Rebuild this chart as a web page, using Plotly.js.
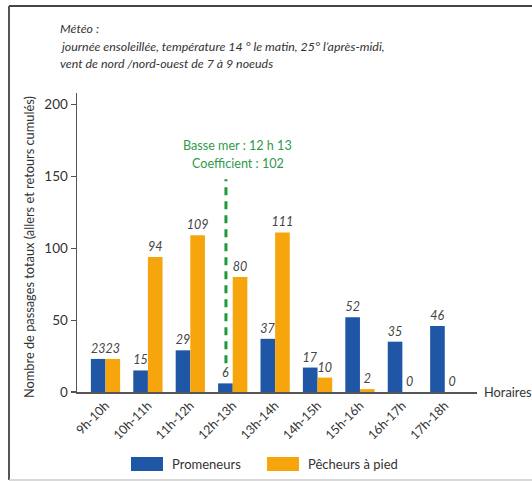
<!DOCTYPE html>
<html>
<head>
<meta charset="utf-8">
<script src="https://cdn.plot.ly/plotly-3.0.1.min.js"></script>
<style>html,body{margin:0;padding:0;background:#fff;}#chart{width:532px;height:481px;}</style>
</head>
<body>
<div id="chart"></div>
<script>
const categories = ["9h-10h","10h-11h","11h-12h","12h-13h","13h-14h","14h-15h","15h-16h","16h-17h","17h-18h"];
const promeneurs = [23,15,29,6,37,17,52,35,46];
const pecheurs = [23,94,109,80,111,10,2,0,0];
const seriesNames = ["Promeneurs","Pêcheurs à pied"];
const seriesColors = ["#1f56a6","#f6a60c"];
const yTicks = [0,50,100,150,200];
const titleLines = ["Météo :","journée ensoleillée, température 14 ° le matin, 25° l’après-midi,","vent de nord /nord-ouest de 7 à 9 noeuds"];
const tideLines = ["Basse mer : 12 h 13","Coefficient : 102"];
const tidePos = 2.84;   // position of low tide on the category axis
const tideTop = 148;
const tideBottom = 20;
const yTitle = "Nombre de passages totaux (allers et retours cumulés)";
const xTitle = "Horaires";

const FONT = "Lato, 'Open Sans', sans-serif";
const W = 532, H = 481;
const m = {l:77, r:55, t:93, b:89};
const pw = W - m.l - m.r, ph = H - m.t - m.b;
const px = x => (x - m.l) / pw;
const py = y => (H - m.b - y) / ph;

const traces = [promeneurs, pecheurs].map((vals, i) => ({
  type: "bar",
  x: categories,
  y: vals,
  name: seriesNames[i],
  marker: {color: seriesColors[i], line: {width: 0}},
  text: vals.map(String),
  textposition: "outside",
  constraintext: "none",
  cliponaxis: false,
  textfont: {family: FONT, size: 12.5, color: "#444", style: "italic"},
  hoverinfo: "skip",
  showlegend: false
}));

const annotations = [];
titleLines.forEach((t, i) => annotations.push({
  text: t, xref: "paper", yref: "paper", x: px(58), y: py(29 + i * 17),
  xanchor: "left", yanchor: "middle", showarrow: false,
  font: {family: FONT, size: 12.4, color: "#333", style: "italic"}
}));
tideLines.forEach((t, i) => annotations.push({
  text: t, xref: "x", yref: "paper", x: 3.12, y: py(145 + i * 18),
  xanchor: "center", yanchor: "middle", showarrow: false,
  font: {family: FONT, size: 12.6, color: "#2f9a4c"}
}));
annotations.push({
  text: yTitle, xref: "paper", yref: "paper", x: px(29), y: py(247),
  xanchor: "center", yanchor: "middle", textangle: -90, showarrow: false,
  font: {family: FONT, size: 12.8, color: "#333"}
});
annotations.push({
  text: xTitle, xref: "paper", yref: "y", x: px(482), y: 0,
  xanchor: "left", yanchor: "middle", showarrow: false,
  font: {family: FONT, size: 12.8, color: "#333"}
});
// custom legend
const legX = [131, 267];
seriesNames.forEach((n, i) => annotations.push({
  text: n, xref: "paper", yref: "paper", x: px(legX[i] + 39), y: py(464),
  xanchor: "left", yanchor: "middle", showarrow: false,
  font: {family: FONT, size: 13, color: "#333"}
}));

const shapes = [
  {type: "line", xref: "x", yref: "y", x0: tidePos, x1: tidePos, y0: tideBottom, y1: tideTop,
   line: {color: "#1d9a3a", width: 3, dash: "8px,6px"}},
  {type: "line", xref: "paper", yref: "paper", x0: px(9), x1: px(540), y0: py(6), y1: py(6),
   line: {color: "#444", width: 2}},
  {type: "line", xref: "paper", yref: "paper", x0: px(9), x1: px(9), y0: py(6), y1: py(480),
   line: {color: "#555", width: 2}},
  {type: "line", xref: "paper", yref: "paper", x0: px(9), x1: px(540), y0: py(480), y1: py(480),
   line: {color: "#ccc", width: 1.5}}
];
seriesColors.forEach((c, i) => shapes.push({
  type: "rect", xref: "paper", yref: "paper",
  x0: px(legX[i]), x1: px(legX[i] + 32), y0: py(457), y1: py(471),
  fillcolor: c, line: {width: 0}
}));

const layout = {
  width: W, height: H,
  margin: m,
  paper_bgcolor: "#fff", plot_bgcolor: "rgba(0,0,0,0)",
  barmode: "group", bargap: 0.31, bargroupgap: 0,
  showlegend: false,
  font: {family: FONT, color: "#333"},
  xaxis: {
    type: "category", range: [-0.672, 8.76],
    showline: true, linecolor: "#555", linewidth: 1.5,
    showgrid: false, zeroline: false, ticks: "",
    tickangle: -45, tickfont: {family: FONT, size: 12.5, color: "#333"}
  },
  yaxis: {
    range: [0, 208], tickvals: yTicks,
    showline: true, linecolor: "#555", linewidth: 1.5,
    showgrid: false, zeroline: false,
    ticks: "outside", ticklen: 5, tickcolor: "#555", tickwidth: 1.2,
    tickfont: {family: FONT, size: 13.5, color: "#333"}
  },
  annotations: annotations,
  shapes: shapes
};

Plotly.newPlot("chart", traces, layout, {staticPlot: true});
</script>
</body>
</html>
